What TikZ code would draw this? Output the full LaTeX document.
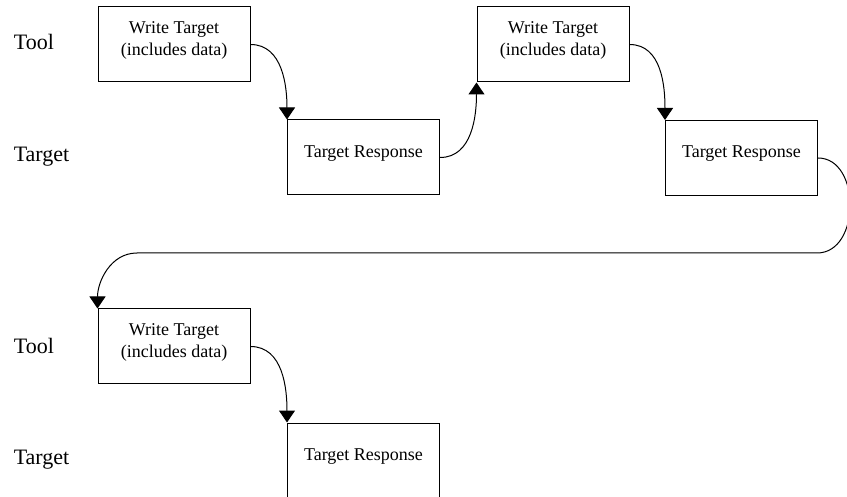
\documentclass[tikz,border=0pt]{standalone}
\usepackage{fontspec}
\setmainfont{Liberation Serif}
\usepackage{tikz}
\usetikzlibrary{arrows.meta,arrows}

\tikzset{
  stepbox/.style={draw, line width=1pt, minimum width=152pt, minimum height=75pt,
    inner sep=0pt, align=center, text depth=12pt, font=\fontsize{18}{22}\selectfont},
  rowlabel/.style={font=\fontsize{22}{26}\selectfont},
  flow/.style={line width=1pt, -{Triangle[width=16pt,length=12pt]}}
}

\begin{document}
\begin{tikzpicture}[x=1pt,y=-1pt]
\clip (0,0) rectangle (847,497);
%%%%%row labels
\node[rowlabel] (tool1) at (34,42) {Tool};
\node[rowlabel] (targ1) at (41.5,157) {Target};
\node[rowlabel] (tool2) at (34,346) {Tool};
\node[rowlabel] (targ2) at (41.5,460) {Target};
%%%%%boxes
\node[stepbox] (w1) at (174,44.5) {Write Target\\(includes data)};
\node[stepbox] (r1) at (363.5,157.5) {Target Response};
\node[stepbox] (w2) at (553,44.5) {Write Target\\(includes data)};
\node[stepbox] (r2) at (741.5,158) {Target Response};
\node[stepbox] (w3) at (174,346.5) {Write Target\\(includes data)};
\node[stepbox] (r3) at (363.5,460.5) {Target Response};
%%%%%arrows
\draw[flow] (w1.east) to[out=0,in=90] (r1.north west);
\draw[flow] (r1.east) to[out=0,in=-90] (w2.south west);
\draw[flow] (w2.east) to[out=0,in=90] (r2.north west);
%%%%%wrap back to the next row
\coordinate (wrap) at (817,253);
\coordinate (back) at (137,253);
\draw[flow] (r2.east) .. controls (861,158) and (861,253) .. (wrap) -- (back) to[out=180,in=90] (w3.north west);
\draw[flow] (w3.east) to[out=0,in=90] (r3.north west);
\end{tikzpicture}
\end{document}
